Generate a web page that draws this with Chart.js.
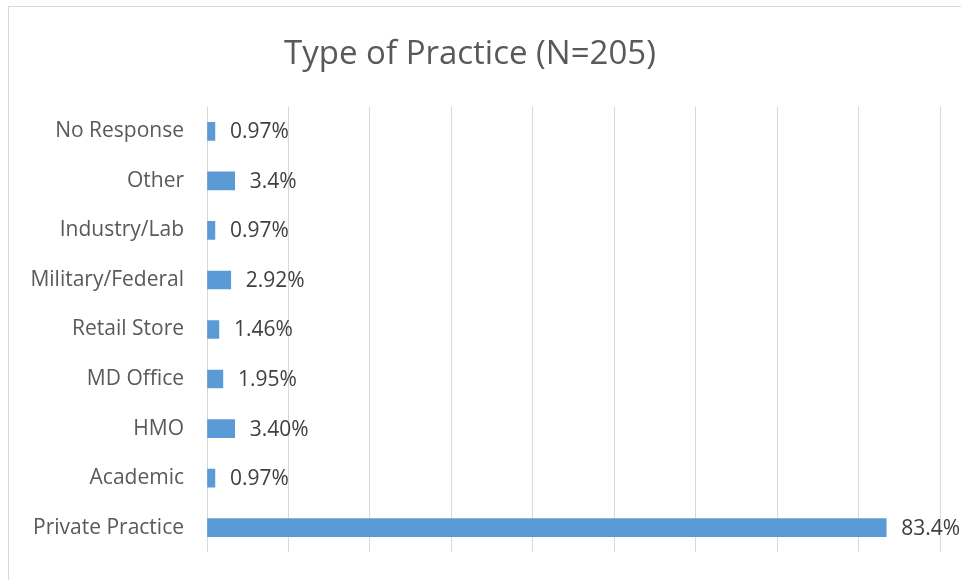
<!DOCTYPE html>
<html>
<head>
<meta charset="utf-8">
<script src="https://cdn.jsdelivr.net/npm/chart.js@4"></script>
<style>
  html, body { margin: 0; padding: 0; background: #fff; }
  body { width: 961px; height: 580px; overflow: hidden; position: relative; }
  .marco { position: absolute; left: 8px; top: 6px; width: 980px; height: 600px; border: 1px solid #d9d9d9; }
  #wrap { position: absolute; left: 0; top: 0; width: 961px; height: 580px; }
</style>
</head>
<body>
<div class="marco"></div>
<div id="wrap"><canvas id="grafico"></canvas></div>
<script>
// --- DATOS ---
const categorias = ['No Response', 'Other', 'Industry/Lab', 'Military/Federal', 'Retail Store', 'MD Office', 'HMO', 'Academic', 'Private Practice'];
const valores = [0.97, 3.4, 0.97, 2.92, 1.46, 1.95, 3.40, 0.97, 83.4];
const etiquetas = ['0.97%', '3.4%', '0.97%', '2.92%', '1.46%', '1.95%', '3.40%', '0.97%', '83.4%'];

const fuente = "'Open Sans', 'Noto Sans', sans-serif";

// etiquetas de datos al final de cada barra
const etiquetasPlugin = {
    id: 'etiquetasBarra',
    afterDatasetsDraw(chart) {
        const ctx = chart.ctx;
        const meta = chart.getDatasetMeta(0);
        ctx.save();
        ctx.font = '21px ' + fuente;
        ctx.fillStyle = '#404040';
        ctx.textAlign = 'left';
        ctx.textBaseline = 'middle';
        meta.data.forEach((bar, i) => {
            ctx.fillText(etiquetas[i], bar.x + 15, bar.y + 1);
        });
        ctx.restore();
    }
};

new Chart(document.getElementById('grafico').getContext('2d'), {
    type: 'bar',
    data: {
        labels: categorias,
        datasets: [{
            data: valores,
            backgroundColor: '#5b9bd5',
            barThickness: 18
        }]
    },
    options: {
        indexAxis: 'y',
        responsive: true,
        maintainAspectRatio: false,
        animation: false,
        layout: { padding: { left: 0, right: 21, top: 0, bottom: 19 } },
        plugins: {
            legend: { display: false },
            tooltip: { enabled: false },
            title: {
                display: true,
                text: 'Type of Practice (N=205)',
                color: '#595959',
                font: { family: fuente, size: 33, weight: 'normal' },
                padding: { top: 35, bottom: 32 }
            }
        },
        scales: {
            x: {
                min: 0,
                max: 90,
                ticks: { display: false, stepSize: 10 },
                grid: { color: '#d9d9d9', lineWidth: 1, drawTicks: false },
                border: { display: false },
                afterFit: (scale) => { scale.height = 0; }
            },
            y: {
                grid: { display: false },
                border: { display: false },
                ticks: {
                    color: '#595959',
                    padding: 15,
                    font: { family: fuente, size: 21 }
                },
                afterFit: (scale) => { scale.width = 207; }
            }
        }
    },
    plugins: [etiquetasPlugin]
});
</script>
</body>
</html>
